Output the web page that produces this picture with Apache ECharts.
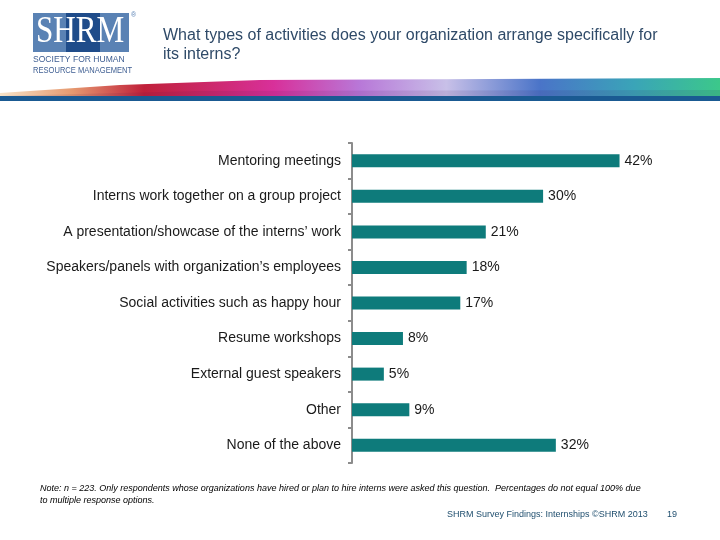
<!DOCTYPE html>
<html>
<head>
<meta charset="utf-8">
<script src="https://cdn.jsdelivr.net/npm/echarts@6/dist/echarts.min.js"></script>
<style>html,body{margin:0;padding:0;background:#fff}#c{width:720px;height:540px}</style>
</head>
<body>
<div id="c"></div>
<script>
var categories = [
  "Mentoring meetings",
  "Interns work together on a group project",
  "A presentation/showcase of the interns\u2019 work",
  "Speakers/panels with organization\u2019s employees",
  "Social activities such as happy hour",
  "Resume workshops",
  "External guest speakers",
  "Other",
  "None of the above"
];
var values = [42, 30, 21, 18, 17, 8, 5, 9, 32];
var titleText = "What types of activities does your organization arrange specifically for\nits interns?";
var noteLines = [
  "Note: n = 223. Only respondents whose organizations have hired or plan to hire interns were asked this question.  Percentages do not equal 100% due",
  "to multiple response options."
];
var footerText = "SHRM Survey Findings: Internships \u00A9SHRM 2013";
var pageNumber = "19";

var chart = echarts.init(document.getElementById('c'), null, {renderer: 'canvas'});
var font = '"Liberation Sans", Arial, sans-serif';

var option = {
  animation: false,
  backgroundColor: '#ffffff',
  title: {
    text: titleText,
    left: 158, top: 21,
    textStyle: {fontFamily: font, fontSize: 16, fontWeight: 'normal', color: '#2f4a68', lineHeight: 19}
  },
  grid: {left: 352, top: 143, width: 318.5, height: 320, containLabel: false},
  xAxis: {
    type: 'value', min: 0, max: 50, show: false
  },
  yAxis: {
    type: 'category', data: categories, inverse: true,
    axisLine: {show: true, lineStyle: {color: '#8c8c8c', width: 2}},
    axisTick: {show: true, length: 4, lineStyle: {color: '#8c8c8c', width: 2}},
    axisLabel: {fontFamily: font, fontSize: 14, color: '#1a1a1a', margin: 11}
  },
  series: [{
    type: 'bar',
    data: values,
    barWidth: 13,
    itemStyle: {color: '#0e7b7b'},
    label: {show: true, position: 'right', distance: 5, formatter: '{c}%', fontFamily: font, fontSize: 14, color: '#1a1a1a'}
  }],
  graphic: [
    // logo
    {type: 'rect', shape: {x: 33, y: 13, width: 96, height: 39}, style: {fill: '#5a82b4'}},
    {type: 'rect', shape: {x: 66, y: 13, width: 34, height: 39}, style: {fill: '#1f4c8a'}},
    {type: 'text', x: 36, y: 13, scaleX: 0.82, style: {text: 'SHRM', font: '38px "Liberation Serif", "DejaVu Serif", serif', fill: '#ffffff'}},
    {type: 'text', left: 131, top: 12, style: {text: '\u00AE', font: '7px "Liberation Sans", sans-serif', fill: '#5a82b4'}},
    {type: 'text', x: 33, y: 55, scaleX: 0.95, style: {text: 'SOCIETY FOR HUMAN', font: '9px "Liberation Sans", sans-serif', fill: '#3e5e92'}},
    {type: 'text', x: 33, y: 66, scaleX: 0.88, style: {text: 'RESOURCE MANAGEMENT', font: '8.6px "Liberation Sans", sans-serif', fill: '#3e5e92'}},
    // rainbow band
    {type: 'polygon', shape: {points: [[0, 96], [0, 93], [120, 85], [260, 80], [720, 78], [720, 96]]},
      style: {fill: {type: 'linear', x: 0, y: 0, x2: 1, y2: 0, colorStops: [
        {offset: 0, color: '#f7e3c8'}, {offset: 0.1, color: '#e69a70'}, {offset: 0.2, color: '#c0203a'},
        {offset: 0.38, color: '#d8309a'}, {offset: 0.5, color: '#b878d8'}, {offset: 0.62, color: '#c8c0e8'},
        {offset: 0.75, color: '#4a74c8'}, {offset: 0.88, color: '#3aa4b8'}, {offset: 1, color: '#3cc88a'}]}}},
    {type: 'polygon', shape: {points: [[0, 96], [200, 91], [720, 90], [720, 96]]},
      style: {fill: 'rgba(60,20,80,0.10)'}},
    {type: 'rect', shape: {x: 0, y: 96, width: 720, height: 5}, style: {fill: '#1a5a92'}},
    // note
    {type: 'text', left: 40, top: 484, style: {text: noteLines[0], font: 'italic 9px "Liberation Sans", sans-serif', fill: '#000000'}},
    {type: 'text', left: 40, top: 496, style: {text: noteLines[1], font: 'italic 9px "Liberation Sans", sans-serif', fill: '#000000'}},
    // footer
    {type: 'text', left: 447, top: 510, style: {text: footerText, font: '9px "Liberation Sans", sans-serif', fill: '#1f4e6e'}},
    {type: 'text', left: 667, top: 510, style: {text: pageNumber, font: '9px "Liberation Sans", sans-serif', fill: '#1f4e6e'}}
  ]
};
chart.setOption(option);
</script>
</body>
</html>
